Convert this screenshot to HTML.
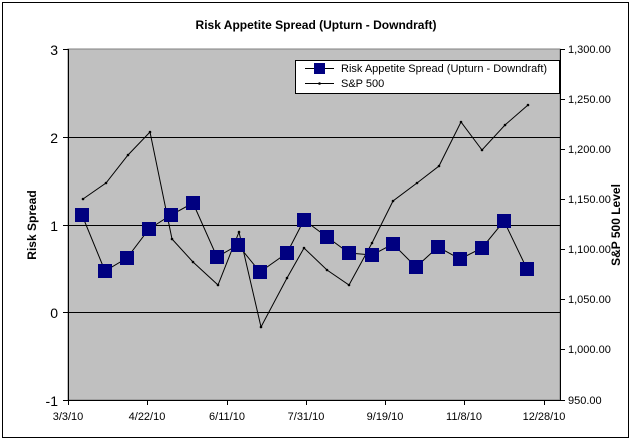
<!DOCTYPE html>
<html><head><meta charset="utf-8"><style>
body{margin:0;background:#fff;width:632px;height:443px;overflow:hidden}
svg{display:block;font-family:"Liberation Sans",Arial,sans-serif}
</style></head><body>
<svg width="632" height="443" viewBox="0 0 632 443">
<rect x="0" y="0" width="632" height="443" fill="#fff"/>
<rect x="2.5" y="2.5" width="626" height="435" fill="#fff" stroke="#000" stroke-width="1"/>
<text x="316" y="29" font-size="12" font-weight="bold" text-anchor="middle">Risk Appetite Spread (Upturn - Downdraft)</text>
<rect x="68" y="49" width="492" height="351" fill="#c0c0c0" stroke="#808080" stroke-width="1"/>
<g stroke="#000" stroke-width="1">
<line x1="68" y1="137.5" x2="560" y2="137.5"/>
<line x1="68" y1="225.5" x2="560" y2="225.5"/>
<line x1="68" y1="312.5" x2="560" y2="312.5"/>
<line x1="68.5" y1="49" x2="68.5" y2="400"/>
<line x1="560.5" y1="49" x2="560.5" y2="400"/>
<line x1="68" y1="400.5" x2="560" y2="400.5"/>
<line x1="63" y1="49.5" x2="68" y2="49.5"/><line x1="63" y1="137.5" x2="68" y2="137.5"/><line x1="63" y1="225.5" x2="68" y2="225.5"/><line x1="63" y1="312.5" x2="68" y2="312.5"/><line x1="63" y1="400.5" x2="68" y2="400.5"/>
<line x1="560" y1="49.5" x2="565" y2="49.5"/><line x1="560" y1="99.5" x2="565" y2="99.5"/><line x1="560" y1="149.5" x2="565" y2="149.5"/><line x1="560" y1="199.5" x2="565" y2="199.5"/><line x1="560" y1="249.5" x2="565" y2="249.5"/><line x1="560" y1="299.5" x2="565" y2="299.5"/><line x1="560" y1="349.5" x2="565" y2="349.5"/><line x1="560" y1="400.5" x2="565" y2="400.5"/>
<line x1="68.5" y1="400" x2="68.5" y2="405"/><line x1="147.5" y1="400" x2="147.5" y2="405"/><line x1="227.5" y1="400" x2="227.5" y2="405"/><line x1="306.5" y1="400" x2="306.5" y2="405"/><line x1="385.5" y1="400" x2="385.5" y2="405"/><line x1="464.5" y1="400" x2="464.5" y2="405"/><line x1="544.5" y1="400" x2="544.5" y2="405"/>
</g>
<g font-size="14" text-anchor="end">
<text x="58" y="55">3</text><text x="58" y="143">2</text><text x="58" y="231">1</text><text x="58" y="318">0</text><text x="58" y="406">-1</text>
</g>
<g font-size="11">
<text x="568" y="53">1,300.00</text><text x="568" y="103">1,250.00</text><text x="568" y="153">1,200.00</text><text x="568" y="203">1,150.00</text><text x="568" y="253">1,100.00</text><text x="568" y="303">1,050.00</text><text x="568" y="353">1,000.00</text><text x="568" y="404">950.00</text>
</g>
<g font-size="11" text-anchor="middle">
<text x="68" y="420">3/3/10</text><text x="147" y="420">4/22/10</text><text x="227" y="420">6/11/10</text><text x="306" y="420">7/31/10</text><text x="385" y="420">9/19/10</text><text x="464" y="420">11/8/10</text><text x="544" y="420">12/28/10</text>
</g>
<text transform="translate(36,225) rotate(-90)" font-size="12" font-weight="bold" text-anchor="middle">Risk Spread</text>
<text transform="translate(620,225) rotate(-90)" font-size="12" font-weight="bold" text-anchor="middle">S&amp;P 500 Level</text>
<polyline fill="none" stroke="#000" stroke-width="1" points="83,199 106,183 128,155 150,132 172,239 193,262 218,285 239,232 261,327 287,278 304,248 327,270 349,285 372,243 393,201 417,183 439,166 461,122 482,150 505,125 528,105"/>
<g fill="#000">
<circle cx="83" cy="199" r="1.3"/><circle cx="106" cy="183" r="1.3"/><circle cx="128" cy="155" r="1.3"/><circle cx="150" cy="132" r="1.3"/><circle cx="172" cy="239" r="1.3"/><circle cx="193" cy="262" r="1.3"/><circle cx="218" cy="285" r="1.3"/><circle cx="239" cy="232" r="1.3"/><circle cx="261" cy="327" r="1.3"/><circle cx="287" cy="278" r="1.3"/><circle cx="304" cy="248" r="1.3"/><circle cx="327" cy="270" r="1.3"/><circle cx="349" cy="285" r="1.3"/><circle cx="372" cy="243" r="1.3"/><circle cx="393" cy="201" r="1.3"/><circle cx="417" cy="183" r="1.3"/><circle cx="439" cy="166" r="1.3"/><circle cx="461" cy="122" r="1.3"/><circle cx="482" cy="150" r="1.3"/><circle cx="505" cy="125" r="1.3"/><circle cx="528" cy="105" r="1.3"/>
</g>
<polyline fill="none" stroke="#000" stroke-width="1" points="82,215 105,271 127,258 149,229 171,215 193,203 217,257 238,245 260,272 287,253 304,220 327,237 349,253 372,255 393,244 416,267 438,247 460,259 482,248 504,221 527,269"/>
<g fill="#000080">
<rect x="75" y="208" width="14" height="14"/><rect x="98" y="264" width="14" height="14"/><rect x="120" y="251" width="14" height="14"/><rect x="142" y="222" width="14" height="14"/><rect x="164" y="208" width="14" height="14"/><rect x="186" y="196" width="14" height="14"/><rect x="210" y="250" width="14" height="14"/><rect x="231" y="238" width="14" height="14"/><rect x="253" y="265" width="14" height="14"/><rect x="280" y="246" width="14" height="14"/><rect x="297" y="213" width="14" height="14"/><rect x="320" y="230" width="14" height="14"/><rect x="342" y="246" width="14" height="14"/><rect x="365" y="248" width="14" height="14"/><rect x="386" y="237" width="14" height="14"/><rect x="409" y="260" width="14" height="14"/><rect x="431" y="240" width="14" height="14"/><rect x="453" y="252" width="14" height="14"/><rect x="475" y="241" width="14" height="14"/><rect x="497" y="214" width="14" height="14"/><rect x="520" y="262" width="14" height="14"/>
</g>
<rect x="295.5" y="60.5" width="264" height="33" fill="#fff" stroke="#000" stroke-width="1"/>
<line x1="305" y1="68.5" x2="334" y2="68.5" stroke="#000"/>
<rect x="314" y="63" width="11" height="11" fill="#000080"/>
<line x1="305" y1="83.5" x2="334" y2="83.5" stroke="#000"/>
<circle cx="319.5" cy="83.5" r="1.3" fill="#000"/>
<text x="341" y="72" font-size="11">Risk Appetite Spread (Upturn - Downdraft)</text>
<text x="341" y="87" font-size="11">S&amp;P 500</text>
</svg>
</body></html>
